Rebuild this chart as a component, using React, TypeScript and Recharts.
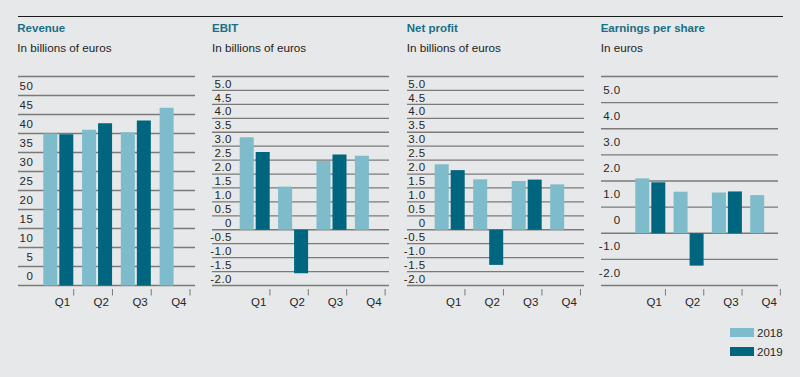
import React from 'react';
import { BarChart, Bar, XAxis, YAxis, CartesianGrid } from 'recharts';

const quarters = ['Q1', 'Q2', 'Q3', 'Q4'];

const revenue2018 = [40.0, 41.0, 40.3, 46.8];
const revenue2019 = [39.8, 42.7, 43.4, null];
const ebit2018 = [3.32, 1.55, 2.47, 2.66];
const ebit2019 = [2.79, -1.56, 2.7, null];
const netProfit2018 = [2.35, 1.81, 1.75, 1.63];
const netProfit2019 = [2.14, -1.26, 1.8, null];
const eps2018 = [2.1, 1.59, 1.56, 1.46];
const eps2019 = [1.95, -1.24, 1.6, null];

const revenueTicks = [0, 5, 10, 15, 20, 25, 30, 35, 40, 45, 50, 55];
const billionTicks = [-2, -1.5, -1, -0.5, 0, 0.5, 1, 1.5, 2, 2.5, 3, 3.5, 4, 4.5, 5, 5.5];
const epsTicks = [-2, -1, 0, 1, 2, 3, 4, 5, 6];

const panelTitles = ['Revenue', 'EBIT', 'Net profit', 'Earnings per share'];
const panelUnits = ['In billions of euros', 'In billions of euros', 'In billions of euros', 'In euros'];
const legendLabels = ['2018', '2019'];

const C2018 = '#7fbccb';
const C2019 = '#00657f';
const GRID = '#7a7a7a';
const TEXT = '#262626';
const FONT = '"Liberation Sans", Arial, sans-serif';

const PLOT_TOP = 76.5;
const PLOT_BOTTOM = 285.5;
const CHART_H = 377;
const Y_W = 1;

function buildRows(a: (number | null)[], b: (number | null)[]) {
  return quarters.map((q, i) => ({ q, y2018: a[i], y2019: b[i] }));
}

const fmtInt = (v: number) => String(v);
const fmtDec = (v: number) => (v === 0 ? '0' : v.toFixed(1));

type PanelProps = {
  rows: any[];
  ticks: number[];
  fmt: (v: number) => string;
  gridL: number;
  gridR: number;
  labelR: number;
  plotL: number;
  band: number;
};

function Panel({ rows, ticks, fmt, gridL, gridR, labelR, plotL, band }: PanelProps) {
  const chartLeft = gridL - 10;
  const W = gridR - gridL + 20;
  const mLeft = plotL - chartLeft - Y_W;
  const mRight = W - (plotL - chartLeft) - band * 4;
  const top = ticks[ticks.length - 1];
  const bandPx = (PLOT_BOTTOM - PLOT_TOP) / (ticks.length - 1);

  const YTick = (p: any) => {
    const v = p.payload.value;
    if (v === top) return <g />;
    return (
      <text
        x={labelR - chartLeft}
        y={p.y - bandPx / 2}
        dy="0.36em"
        textAnchor="end"
        fontSize={11.5}
        fill={TEXT}
        fontFamily={FONT}
        letterSpacing={0.5}
      >
        {fmt(v)}
      </text>
    );
  };

  const XTick = (p: any) => {
    const tx = p.x + 15;
    return (
      <g>
        <line x1={tx} x2={tx} y1={289} y2={295.5} stroke={GRID} strokeWidth={1} />
        <text
          x={tx - 3.5}
          y={302}
          dy="0.36em"
          textAnchor="end"
          fontSize={11.5}
          fill={TEXT}
          fontFamily={FONT}
        >
          {p.payload.value}
        </text>
      </g>
    );
  };

  const gridLine = (p: any) => (
    <line
      key={`gl-${p.index}-${p.y1}`}
      x1={gridL - chartLeft}
      x2={gridR - chartLeft}
      y1={p.y1}
      y2={p.y2}
      stroke={GRID}
      strokeWidth={1.3}
    />
  );

  return (
    <div style={{ position: 'absolute', left: chartLeft, top: 0 }}>
      <BarChart
        width={W}
        height={CHART_H}
        data={rows}
        margin={{ top: PLOT_TOP, bottom: CHART_H - PLOT_BOTTOM - 30, left: mLeft, right: mRight }}
        barSize={14}
        barGap={2}
      >
        <CartesianGrid vertical={false} horizontal={gridLine} />
        <XAxis
          dataKey="q"
          height={30}
          axisLine={false}
          tickLine={false}
          interval={0}
          tick={XTick}
        />
        <YAxis
          width={Y_W}
          domain={[ticks[0], top]}
          ticks={ticks}
          interval={0}
          axisLine={false}
          tickLine={false}
          tick={YTick}
        />
        <Bar dataKey="y2018" fill={C2018} isAnimationActive={false} />
        <Bar dataKey="y2019" fill={C2019} isAnimationActive={false} />
      </BarChart>
    </div>
  );
}

export default function App() {
  const panels = [
    { rows: buildRows(revenue2018, revenue2019), ticks: revenueTicks, fmt: fmtInt, gridL: 18, gridR: 195, labelR: 33.3, plotL: 39.3, band: 38.77 },
    { rows: buildRows(ebit2018, ebit2019), ticks: billionTicks, fmt: fmtDec, gridL: 212, gridR: 389, labelR: 232, plotL: 235.7, band: 38.4 },
    { rows: buildRows(netProfit2018, netProfit2019), ticks: billionTicks, fmt: fmtDec, gridL: 407, gridR: 584, labelR: 425.7, plotL: 430.7, band: 38.5 },
    { rows: buildRows(eps2018, eps2019), ticks: epsTicks, fmt: fmtDec, gridL: 601, gridR: 778, labelR: 620.7, plotL: 631.3, band: 38.3 },
  ];
  const titleX = [17.3, 212, 406.7, 600.7];

  return (
    <div
      style={{
        position: 'absolute',
        left: 0,
        top: 0,
        width: 800,
        height: 377,
        background: '#e7e8e9',
        overflow: 'hidden',
        fontFamily: FONT,
      }}
    >
      <div style={{ position: 'absolute', left: 18, top: 15.5, width: 765, height: 1.2, background: '#1a1a1a' }} />
      {panelTitles.map((t, i) => (
        <div
          key={t}
          style={{
            position: 'absolute',
            left: titleX[i],
            top: 21,
            lineHeight: '14px',
            fontSize: 11.5,
            fontWeight: 'bold',
            color: '#1a6f87',
            whiteSpace: 'nowrap',
          }}
        >
          {t}
        </div>
      ))}
      {panelUnits.map((t, i) => (
        <div
          key={i}
          style={{
            position: 'absolute',
            left: titleX[i],
            top: 41,
            lineHeight: '14px',
            fontSize: 11.7,
            color: '#1e1e1e',
            whiteSpace: 'nowrap',
          }}
        >
          {t}
        </div>
      ))}
      {panels.map((p, i) => (
        <Panel key={i} {...p} />
      ))}
      {legendLabels.map((l, i) => (
        <React.Fragment key={l}>
          <div
            style={{
              position: 'absolute',
              left: 730,
              top: 328 + i * 19,
              width: 24,
              height: 9,
              background: i === 0 ? C2018 : C2019,
            }}
          />
          <div
            style={{
              position: 'absolute',
              left: 757,
              top: 326 + i * 19,
              lineHeight: '14px',
              fontSize: 11.5,
              color: TEXT,
            }}
          >
            {l}
          </div>
        </React.Fragment>
      ))}
    </div>
  );
}
